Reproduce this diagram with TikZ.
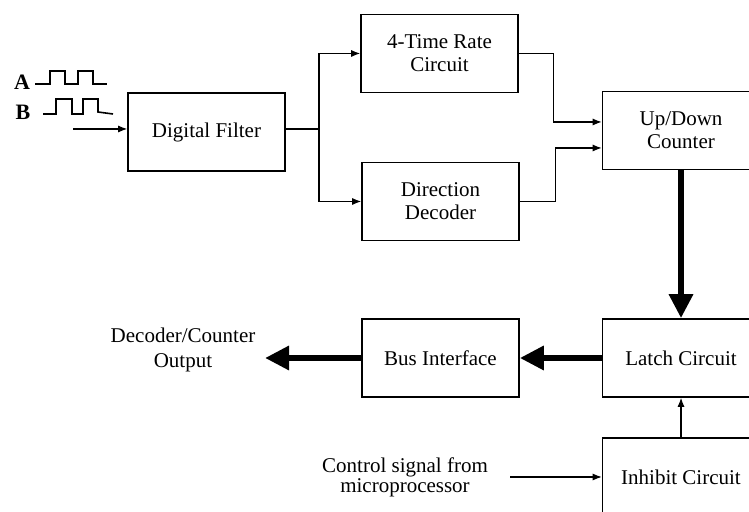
\documentclass[tikz,border=0pt]{standalone}
\usepackage{fontspec}
\setmainfont{Liberation Serif}
\usetikzlibrary{arrows.meta}
\begin{document}
\begin{tikzpicture}[x=0.5pt,y=-0.5pt,
  blk/.style={draw, line width=0.8pt, minimum width=78.5pt, minimum height=39pt,
    align=center, inner sep=0pt, font=\fontsize{10.5}{11.5}\selectfont},
  sig/.style={line width=0.55pt, -{Latex[length=4.5pt,width=3.5pt]}},
  wide/.style={line width=3.4pt, -{Triangle[length=12pt,width=11.5pt]}},
  lbl/.style={align=center, font=\fontsize{10.5}{12.5}\selectfont},
  wave/.style={line width=0.8pt}]
\useasboundingbox (0,0) rectangle (749,512);
\clip (0,0) rectangle (749,512);
\node[blk] (filt) at (206.5,132){Digital Filter};
\node[blk] (rate) at (439.5,53.5){4-Time Rate\\Circuit};
\node[blk] (dir) at (440.5,201.5){Direction\\Decoder};
\node[blk] (cnt) at (681,130.5){Up/Down\\Counter};
\node[blk] (latch) at (681,358){Latch Circuit};
\node[blk] (bus) at (440.5,358){Bus Interface};
\node[blk] (inh) at (681,477){Inhibit Circuit};
\node[lbl] (outtxt) at (183,350){Decoder/Counter\\Output};
\node[lbl] (ctltxt) at (405,477){Control signal from\\[-2.5pt]microprocessor};
\node[font=\bfseries\fontsize{11}{12}\selectfont] (la) at (22,82){A};
\node[font=\bfseries\fontsize{11}{12}\selectfont] (lb) at (23,112){B};
\draw[wave] (35,84) -- (50,84) -- (50,71) -- (65,71) -- (65,84) -- (78,84) -- (78,71) -- (93,71) -- (93,84) -- (107,84);
\draw[wave] (43,114) -- (56,114) -- (56,99) -- (72,99) -- (72,114) -- (83,114) -- (83,99) -- (98,99) -- (98,112) -- (113,114);
\coordinate (in) at (73,129);
\coordinate (sp) at (319,129);
\coordinate (out) at (265,358);
\coordinate (ctl) at (510,477);
\draw[sig] (in) -- (in -| filt.west);
\draw[line width=0.55pt] (filt.east |- sp) -- (sp);
\draw[sig] (sp) |- (rate.west);
\draw[sig] (sp) |- (dir.west);
\draw[sig] (rate.east) -- ++(35,0) |- ([yshift=4.25pt]cnt.west);
\draw[sig] (dir.east) -- ++(36,0) |- ([yshift=-8.75pt]cnt.west);
\draw[wide] (cnt.south) -- (latch.north);
\draw[wide] (latch.west) -- (bus.east);
\draw[wide] (bus.west) -- (out);
\draw[sig] (inh.north) -- (latch.south);
\draw[sig] (ctl) -- (inh.west);
\end{tikzpicture}
\end{document}
